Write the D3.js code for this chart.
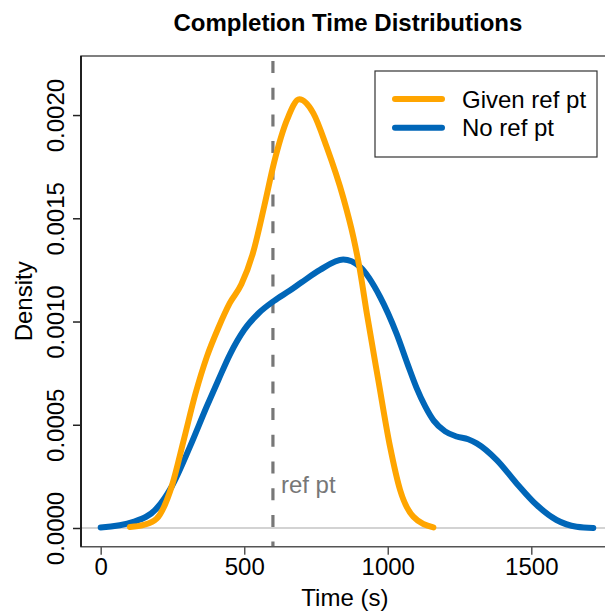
<!DOCTYPE html>
<html>
<head>
<meta charset="utf-8">
<script src="https://cdn.jsdelivr.net/npm/d3@7"></script>
<style>
  html, body { margin: 0; padding: 0; background: #fff; }
  svg { display: block; font-family: "Liberation Sans", Arial, Helvetica, sans-serif; }
</style>
</head>
<body>
<svg id="chart" width="605" height="614"></svg>
<script>
// ---- Data ----
const title = "Completion Time Distributions";
const xLabel = "Time (s)";
const yLabel = "Density";
const seriesNames = ["Given ref pt", "No ref pt"];
const seriesColors = ["#FFA500", "#0066B8"];
const xTicks = [0, 500, 1000, 1500];
const yTicks = [0, 0.0005, 0.0010, 0.0015, 0.0020];
const refPoint = 600;
const refLabel = "ref pt";

const givenTime = [102, 150, 195, 247, 290, 330, 370, 410, 450, 490, 530, 570, 604, 650, 692, 741, 787, 845, 880, 901, 927, 967, 1008, 1043, 1089, 1159];
const givenDensity = [0.000005, 0.000015, 0.000045, 0.0002, 0.00043, 0.00065, 0.00083, 0.00097, 0.00109, 0.00118, 0.00133, 0.00156, 0.00177, 0.00198, 0.002076, 0.002008, 0.001846, 0.0016, 0.00141, 0.001265, 0.00104, 0.000717, 0.000394, 0.000184, 0.000055, 0.000003];

const noRefTime = [0, 114, 195, 247, 311, 369, 410, 450, 500, 550, 604, 659, 700, 764, 845, 903, 973, 1031, 1070, 1100, 1130, 1160, 1200, 1240, 1280, 1310, 1380, 1449, 1519, 1588, 1658, 1716];
const noRefDensity = [0.000002, 0.00003, 0.000095, 0.0002, 0.000394, 0.000587, 0.000717, 0.00084, 0.00096, 0.00104, 0.0011, 0.00115, 0.00119, 0.00125, 0.0013, 0.001265, 0.00112, 0.00094, 0.00079, 0.00068, 0.00059, 0.00052, 0.000468, 0.000443, 0.00043, 0.00041, 0.000329, 0.000216, 0.000111, 0.0000387, 0.0000063, 0.0000005];

// ---- Layout ----
const svg = d3.select("#chart");
const plotLeft = 81, plotTop = 56, plotBottom = 546.7, plotRight = 612.7;
const fontSize = 24;

const x = d3.scaleLinear().domain([-68.6, 1783.6]).range([plotLeft, plotRight]);
const y = d3.scaleLinear().domain([-0.0000906, 0.002286]).range([plotBottom, plotTop]);

// zero reference line
svg.append("line")
  .attr("x1", plotLeft).attr("x2", 605)
  .attr("y1", y(0)).attr("y2", y(0))
  .attr("stroke", "#c4c4c4").attr("stroke-width", 1.5);

// ref pt dashed line
svg.append("line")
  .attr("x1", x(refPoint)).attr("x2", x(refPoint))
  .attr("y1", 61).attr("y2", plotBottom)
  .attr("stroke", "#777").attr("stroke-width", 3.2)
  .attr("stroke-dasharray", "12,14.7");

svg.append("text")
  .attr("x", x(refPoint) + 8).attr("y", 493)
  .attr("fill", "#777").attr("font-size", fontSize)
  .text(refLabel);

// curves
const line = d3.line()
  .x(d => x(d[0])).y(d => y(d[1]))
  .curve(d3.curveMonotoneX);

const series = [
  givenTime.map((t, i) => [t, givenDensity[i]]),
  noRefTime.map((t, i) => [t, noRefDensity[i]])
];

[1, 0].forEach(i => {
  svg.append("path")
    .datum(series[i])
    .attr("d", line)
    .attr("fill", "none")
    .attr("stroke", seriesColors[i])
    .attr("stroke-width", 6)
    .attr("stroke-linecap", "round")
    .attr("stroke-linejoin", "round");
});

// plot box (left / top / bottom; right is outside the window)
svg.append("path")
  .attr("d", `M${plotRight},${plotTop}H${plotLeft}V${plotBottom}H${plotRight}`)
  .attr("fill", "none").attr("stroke", "#555").attr("stroke-width", 1.5);

// y axis
const yAxis = d3.axisLeft(y).tickValues(yTicks).tickFormat(d3.format(".4f")).tickSize(8).tickPadding(0);
const gy = svg.append("g").attr("transform", `translate(${plotLeft},0)`).call(yAxis);
gy.select(".domain").attr("d", `M0,${plotTop}V${plotBottom}`).attr("stroke", "#000").attr("stroke-width", 1.5);
gy.selectAll(".tick line").attr("stroke", "#222").attr("stroke-width", 1.5);
gy.selectAll(".tick text")
  .attr("font-size", fontSize)
  .attr("font-family", "Liberation Sans, Arial, sans-serif")
  .attr("fill", "#000")
  .attr("text-anchor", "middle")
  .attr("dy", null)
  .attr("x", null)
  .attr("transform", "translate(-17.5,0) rotate(-90)");

// x axis
const xAxis = d3.axisBottom(x).tickValues(xTicks).tickFormat(d3.format("d")).tickSize(8).tickPadding(0);
const gx = svg.append("g").attr("transform", `translate(0,${plotBottom})`).call(xAxis);
gx.select(".domain").remove();
gx.selectAll(".tick line").attr("stroke", "#555").attr("stroke-width", 1.5);
gx.selectAll(".tick text")
  .attr("font-size", fontSize)
  .attr("font-family", "Liberation Sans, Arial, sans-serif")
  .attr("fill", "#000")
  .attr("dy", null)
  .attr("y", 28.5);

// axis titles
svg.append("text")
  .attr("x", (plotLeft + plotRight) / 2 - 2).attr("y", 606)
  .attr("text-anchor", "middle").attr("font-size", fontSize)
  .text(xLabel);

svg.append("text")
  .attr("transform", `translate(32,${(plotTop + plotBottom) / 2}) rotate(-90)`)
  .attr("text-anchor", "middle").attr("font-size", fontSize)
  .text(yLabel);

// title
svg.append("text")
  .attr("x", (plotLeft + plotRight) / 2 + 1).attr("y", 31)
  .attr("text-anchor", "middle").attr("font-size", fontSize).attr("font-weight", "bold")
  .text(title);

// legend
const lg = svg.append("g");
lg.append("rect")
  .attr("x", 375).attr("y", 71).attr("width", 222).attr("height", 86)
  .attr("fill", "#fff").attr("stroke", "#333").attr("stroke-width", 1.2);
const legendY = [99, 127.7];
seriesNames.forEach((name, i) => {
  lg.append("line")
    .attr("x1", 395).attr("x2", 442)
    .attr("y1", legendY[i]).attr("y2", legendY[i])
    .attr("stroke", seriesColors[i]).attr("stroke-width", 6)
    .attr("stroke-linecap", "round");
  lg.append("text")
    .attr("x", 462).attr("y", legendY[i] + 8.5)
    .attr("font-size", fontSize)
    .text(name);
});
</script>
</body>
</html>
